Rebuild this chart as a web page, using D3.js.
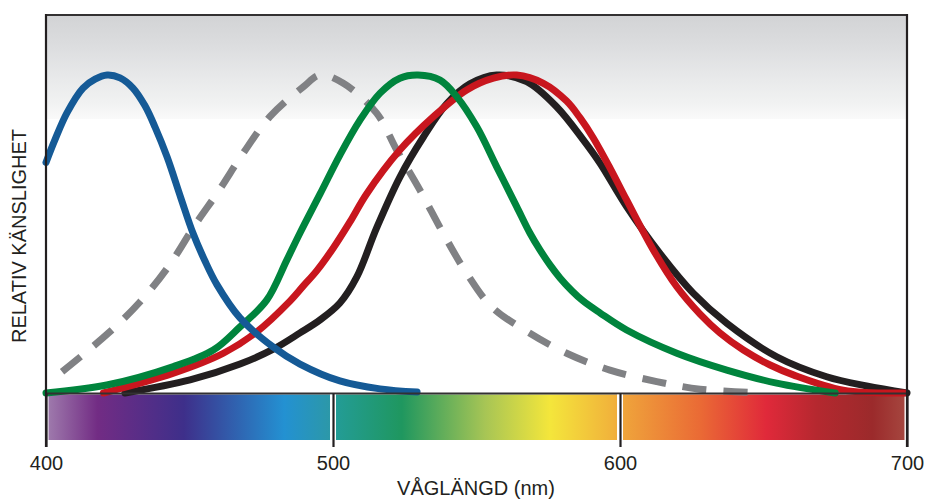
<!DOCTYPE html>
<html>
<head>
<meta charset="utf-8">
<script src="https://cdn.jsdelivr.net/npm/d3@7"></script>
<style>
  html, body { margin: 0; padding: 0; background: #fff; }
  svg { display: block; }
  text { font-family: "Liberation Sans", Arial, Helvetica, sans-serif; fill: #231f20; }
</style>
</head>
<body>
<script>
// ---------- data ----------
const tickValues = [400, 500, 600, 700];
const xTitle = "VÅGLÄNGD (nm)";
const yTitle = "RELATIV KÄNSLIGHET";

// S-cones (blue)
const blueNm  = [400, 403.1, 407.3, 412.9, 417.1, 421.3, 425.8, 430.3, 434.5, 438.0, 442.2, 447.0, 451.2, 455.4, 459.6, 467.6, 479.1, 488.5, 502.4, 516.4, 529.3];
const blueVal = [0.725, 0.796, 0.881, 0.959, 0.987, 1.0, 0.991, 0.959, 0.903, 0.836, 0.742, 0.613, 0.503, 0.415, 0.340, 0.236, 0.145, 0.091, 0.038, 0.013, 0.003];

// rods (grey dashed)
const rodNm  = [405.6, 421.7, 432.8, 442.6, 451.9, 460.0, 468.7, 478.0, 489.7, 495.5, 503.6, 515.2, 522.2, 530.3, 538.4, 546.6, 555.3, 568.6, 581.4, 596.5, 612.8, 627.9, 648];
const rodVal = [0.067, 0.188, 0.287, 0.397, 0.528, 0.633, 0.754, 0.869, 0.963, 1.0, 0.974, 0.88, 0.764, 0.638, 0.502, 0.376, 0.271, 0.188, 0.125, 0.072, 0.036, 0.012, 0.001];

// M-cones (green)
const greenNm  = [400, 421.2, 444.4, 458.3, 467.6, 476.9, 483.9, 488.5, 495.5, 502.4, 509.4, 516.4, 523.3, 529.6, 537.3, 543.1, 550.1, 557.0, 564.0, 568.6, 572.1, 575.6, 579.1, 583.3, 587.2, 593.0, 602.3, 619.8, 637.2, 654.6, 675];
const greenVal = [0, 0.025, 0.083, 0.135, 0.208, 0.292, 0.418, 0.503, 0.626, 0.748, 0.858, 0.943, 0.990, 1.0, 0.984, 0.932, 0.837, 0.712, 0.586, 0.503, 0.450, 0.403, 0.362, 0.321, 0.289, 0.252, 0.198, 0.125, 0.072, 0.031, 0];

// L-cones (red)
const redNm  = [420, 444.4, 461.8, 473.4, 485.0, 489.6, 494.3, 500.1, 505.9, 511.7, 523.3, 535.0, 546.6, 555.9, 564.0, 573.3, 581.4, 586.1, 590.7, 596.5, 602.3, 611.6, 619.8, 627.9, 634.8, 643.0, 652.3, 660.4, 677.8, 699];
const redVal = [0, 0.062, 0.125, 0.192, 0.289, 0.336, 0.384, 0.456, 0.538, 0.626, 0.764, 0.869, 0.953, 0.990, 1.0, 0.974, 0.918, 0.865, 0.802, 0.708, 0.607, 0.450, 0.334, 0.248, 0.189, 0.135, 0.088, 0.057, 0.009, 0];

// photopic luminosity (black)
const blackNm  = [427.5, 450.2, 467.6, 479.2, 488.5, 495.5, 502.4, 508.3, 515.2, 523.3, 531.5, 539.6, 547.7, 557.0, 567.5, 577.9, 587.2, 593.0, 602.3, 613.9, 625.5, 637.2, 654.6, 672.0, 685.9, 700];
const blackVal = [0, 0.041, 0.091, 0.138, 0.189, 0.230, 0.283, 0.365, 0.519, 0.679, 0.805, 0.909, 0.972, 1.0, 0.979, 0.900, 0.796, 0.723, 0.586, 0.439, 0.314, 0.219, 0.114, 0.051, 0.022, 0];

// spectrum colour stops (wavelength, colour)
const specNm  = [400, 418, 448, 483, 499, 501, 524, 553, 575.6, 597.6, 602, 628, 651, 668.6, 688, 700];
const specCol = ["#a07dae", "#722c84", "#3e2f8a", "#2391d2", "#2c98a8", "#239c96", "#1f975f", "#a7c555", "#f4e63b", "#f1b23b", "#efa23b", "#ea6a35", "#e0293a", "#b5282f", "#9b2a2b", "#a64840"];

// ---------- layout ----------
const W = 925, H = 499;
const pLeft = 46, pRight = 907, pTop = 15, pBase = 393.5, barBottom = 440, tickEnd = 447;

const x = d3.scaleLinear().domain([400, 700]).range([pLeft, pRight]);
const y = d3.scaleLinear().domain([0, 1]).range([393, 75]);

const svg = d3.select("body").append("svg").attr("width", W).attr("height", H);
const defs = svg.append("defs");

// top grey fade
const bg = defs.append("linearGradient").attr("id", "bgfade").attr("x1", 0).attr("y1", 0).attr("x2", 0).attr("y2", 1);
[["0%", "#d2d3d5"], ["30%", "#dcdddf"], ["60%", "#e8e9ea"], ["85%", "#f1f2f2"], ["100%", "#fafafa"]]
  .forEach(([o, c]) => bg.append("stop").attr("offset", o).attr("stop-color", c));
svg.append("rect").attr("x", pLeft).attr("y", pTop).attr("width", pRight - pLeft).attr("height", 104)
  .attr("fill", "url(#bgfade)");

// spectrum bar
const sg = defs.append("linearGradient").attr("id", "spec").attr("gradientUnits", "userSpaceOnUse")
  .attr("x1", x(400)).attr("x2", x(700)).attr("y1", 0).attr("y2", 0);
specNm.forEach((n, i) => sg.append("stop").attr("offset", (n - 400) / 300).attr("stop-color", specCol[i]));
svg.append("rect").attr("x", x(400) + 2.5).attr("y", pBase + 1).attr("width", x(700) - x(400) - 5)
  .attr("height", barBottom - pBase - 1).attr("fill", "url(#spec)");

// curves
const line = d3.line().x(d => x(d[0])).y(d => y(d[1])).curve(d3.curveCatmullRom.alpha(0.5));
const zip = (a, b) => a.map((v, i) => [v, b[i]]);

const series = [
  { nm: rodNm, val: rodVal, color: "#808184", dash: "24,17", cap: "butt" },
  { nm: blackNm, val: blackVal, color: "#231f20" },
  { nm: redNm, val: redVal, color: "#c8161e" },
  { nm: greenNm, val: greenVal, color: "#00843d" },
  { nm: blueNm, val: blueVal, color: "#155a96" }
];
series.forEach(s => {
  svg.append("path").datum(zip(s.nm, s.val)).attr("d", line)
    .attr("fill", "none").attr("stroke", s.color).attr("stroke-width", 7)
    .attr("stroke-linecap", s.cap || "round").attr("stroke-linejoin", "round")
    .attr("stroke-dasharray", s.dash || null);
});

// frame
svg.append("line").attr("x1", pLeft).attr("x2", pRight).attr("y1", pTop).attr("y2", pTop)
  .attr("stroke", "#333132").attr("stroke-width", 2);
svg.append("line").attr("x1", pLeft).attr("x2", pRight).attr("y1", pBase).attr("y2", pBase)
  .attr("stroke", "#333132").attr("stroke-width", 2);
[pLeft, pRight].forEach(px => {
  svg.append("line").attr("x1", px).attr("x2", px).attr("y1", pTop - 1).attr("y2", tickEnd)
    .attr("stroke", "#231f20").attr("stroke-width", 2.2);
});

// white separators in the spectrum bar for inner ticks
svg.selectAll(".sep").data(tickValues.slice(1, -1)).join("line").attr("class", "sep")
  .attr("x1", d => x(d)).attr("x2", d => x(d)).attr("y1", pBase + 1).attr("y2", barBottom)
  .attr("stroke", "#ffffff").attr("stroke-width", 6);

// axis
const axis = d3.axisBottom(x).tickValues(tickValues).tickFormat(d3.format("d"))
  .tickSizeInner(tickEnd - pBase).tickSizeOuter(0).tickPadding(9);
const gAx = svg.append("g").attr("transform", `translate(0,${pBase})`).call(axis);
gAx.select(".domain").remove();
gAx.selectAll(".tick line").attr("stroke", "#231f20").attr("stroke-width", 2.2);
gAx.selectAll(".tick text").attr("font-size", 20).attr("fill", "#231f20")
  .style("font-family", '"Liberation Sans", Arial, sans-serif');

// titles
svg.append("text").attr("x", 476).attr("y", 495).attr("text-anchor", "middle")
  .attr("font-size", 20).text(xTitle);
svg.append("text").attr("transform", "translate(26,236) rotate(-90)").attr("text-anchor", "middle")
  .attr("font-size", 20).text(yTitle);
</script>
</body>
</html>
